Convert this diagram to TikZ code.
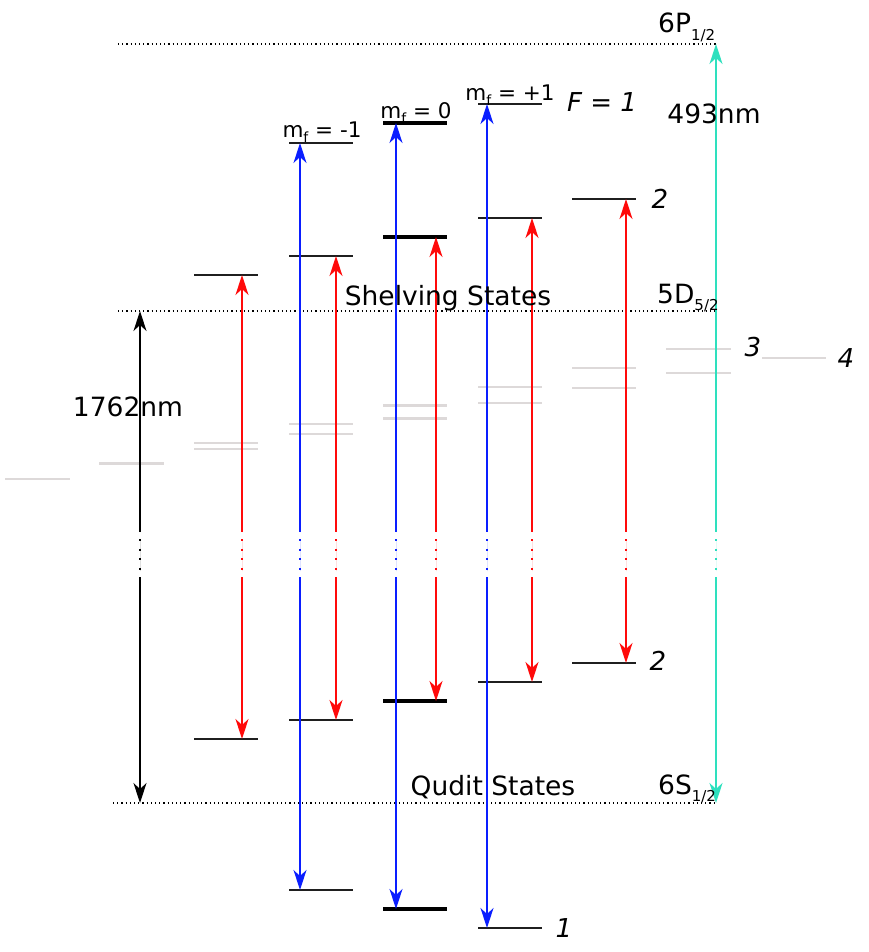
\documentclass[tikz,border=0pt]{standalone}
\usepackage{fontspec}
\setmainfont{DejaVu Sans}
\usetikzlibrary{arrows.meta}
\definecolor{myblue}{HTML}{0A1EFF}
\definecolor{myred}{HTML}{FF0A0A}
\definecolor{mycyan}{HTML}{2EE0BE}
\definecolor{mygrey}{HTML}{DDD9D9}
\newcommand\sbs[1]{\raisebox{-0.5ex}{\fontsize{15}{15}\selectfont #1}}
\newcommand\sbm[1]{\raisebox{-0.4ex}{\fontsize{14}{14}\selectfont #1}}
\newcommand\linktrans[3]{%
  \draw[#1,{Stealth[length=20pt,width=13pt,inset=6pt]}-] (#2) -- (#2 |- gapT);
  \draw[#1,dash pattern=on 2pt off 7.67pt] (#2 |- dotT) -- (#2 |- dotB);
  \draw[#1,-{Stealth[length=20pt,width=13pt,inset=6pt]}] (#2 |- gapB) -- (#3);}
\begin{document}
\begin{tikzpicture}[x=1pt,y=-1pt,
  level/.style={line width=1.6pt,draw=black!88},
  thicklevel/.style={line width=3.6pt,draw=black},
  ghost/.style={line width=2pt,draw=mygrey},
  ghostthick/.style={line width=3pt,draw=mygrey},
  dotline/.style={line width=1.2pt,dash pattern=on 1.2pt off 3pt},
  bluetr/.style={draw=myblue,line width=1.3pt,fill=myblue},
  redtr/.style={draw=myred,line width=1.5pt,fill=myred},
  blacktr/.style={draw=black,line width=1.3pt,fill=black},
  cyantr/.style={draw=mycyan,line width=2pt,fill=mycyan},
  lbl/.style={font=\fontsize{26.5}{30}\selectfont,inner sep=0pt},
  numlbl/.style={font=\fontsize{26}{30}\selectfont\itshape,inner sep=0pt},
  mflbl/.style={font=\fontsize{21.5}{24}\selectfont,inner sep=0pt,anchor=base}]
\useasboundingbox (0,0) rectangle (869,952);
% gap reference coordinates
\coordinate (gapT) at (0,532);
\coordinate (gapB) at (0,577);
\coordinate (dotT) at (0,539);
\coordinate (dotB) at (0,571);

% dotted manifold lines
\coordinate (pL) at (118,44);  \coordinate (pR) at (716,44);
\coordinate (dL) at (118,311); \coordinate (dR) at (716,311);
\coordinate (sL) at (113,803); \coordinate (sR) at (716,803);
\draw[dotline] (pL) -- (pR);
\draw[dotline] (dL) -- (dR);
\draw[dotline] (sL) -- (sR);

% ghost (grey) levels
\draw[line width=1.5pt,draw=mygrey] (5,479) -- (70,479);
\draw[ghostthick] (99,463) -- (164,463);
\draw[ghost] (194,443) -- (258,443);
\draw[ghost] (194,449) -- (258,449);
\draw[ghost] (289,424) -- (353,424);
\draw[ghost] (289,434) -- (353,434);
\draw[ghostthick] (383,405) -- (447,405);
\draw[ghostthick] (383,418) -- (447,418);
\draw[ghost] (478,387) -- (542,387);
\draw[ghost] (478,403) -- (542,403);
\draw[ghost] (572,368) -- (636,368);
\draw[ghost] (572,388) -- (636,388);
\draw[ghost] (666,349) -- (731,349);
\draw[ghost] (666,373) -- (731,373);
\draw[ghost] (762,358) -- (826,358);

% black levels
\draw[level] (194,275) -- (258,275);
\draw[level] (194,739) -- (258,739);
\draw[level] (289,143) -- (353,143);
\draw[level] (289,256) -- (353,256);
\draw[level] (289,720) -- (353,720);
\draw[level] (289,890) -- (353,890);
\draw[thicklevel] (383,123) -- (447,123);
\draw[thicklevel] (383,237) -- (447,237);
\draw[thicklevel] (383,701) -- (447,701);
\draw[thicklevel] (383,909) -- (447,909);
\draw[level] (478,104) -- (542,104);
\draw[level] (478,218) -- (542,218);
\draw[level] (478,682) -- (542,682);
\draw[level] (478,928) -- (542,928);
\draw[level] (572,199) -- (636,199);
\draw[level] (572,663) -- (636,663);

% arrow end coordinates
\coordinate (k1) at (140,311); \coordinate (k2) at (140,803);
\coordinate (r1a) at (242,275); \coordinate (r1b) at (242,739);
\coordinate (b2a) at (300,143); \coordinate (b2b) at (300,890);
\coordinate (r2a) at (336,256); \coordinate (r2b) at (336,720);
\coordinate (b3a) at (396,123); \coordinate (b3b) at (396,909);
\coordinate (r3a) at (436,237); \coordinate (r3b) at (436,701);
\coordinate (b4a) at (487,104); \coordinate (b4b) at (487,928);
\coordinate (r4a) at (532,218); \coordinate (r4b) at (532,682);
\coordinate (r5a) at (626,199); \coordinate (r5b) at (626,663);
\coordinate (c1) at (716,44);  \coordinate (c2) at (716,803);

\linktrans{blacktr}{k1}{k2}
\linktrans{redtr}{r1a}{r1b}
\linktrans{bluetr}{b2a}{b2b}
\linktrans{redtr}{r2a}{r2b}
\linktrans{bluetr}{b3a}{b3b}
\linktrans{redtr}{r3a}{r3b}
\linktrans{bluetr}{b4a}{b4b}
\linktrans{redtr}{r4a}{r4b}
\linktrans{redtr}{r5a}{r5b}
\linktrans{cyantr}{c1}{c2}

% labels
\node[lbl,anchor=base west] (t6p) at (658,33) {6P\sbs{1/2}};
\node[lbl,anchor=base west] (t5d) at (657,303) {5D\sbs{5/2}};
\node[lbl,anchor=base west] (t6s) at (658,794) {6S\sbs{1/2}};
\node[lbl,anchor=base] (tshelve) at (448,305) {Shelving States};
\node[lbl,anchor=base] (tqudit) at (493,795) {Qudit States};
\node[lbl,anchor=base] (t1762) at (128,416) {1762nm};
\node[lbl,anchor=base] (t493) at (714,124) {493nm};
\node[mflbl] (mfm) at (322,138) {m\sbm{f} = -1};
\node[mflbl] (mf0) at (416,119) {m\sbm{f} = 0};
\node[mflbl] (mfp) at (510,101) {m\sbm{f} = +1};
\node[numlbl,anchor=base] (tF) at (602,112) {F = 1};
\node[numlbl] (n2a) at (660,199) {2};
\node[numlbl] (n2b) at (658,661) {2};
\node[numlbl] (n3) at (753,347) {3};
\node[numlbl] (n4) at (846,358) {4};
\node[numlbl] (n1) at (564,928) {1};
\end{tikzpicture}
\end{document}
